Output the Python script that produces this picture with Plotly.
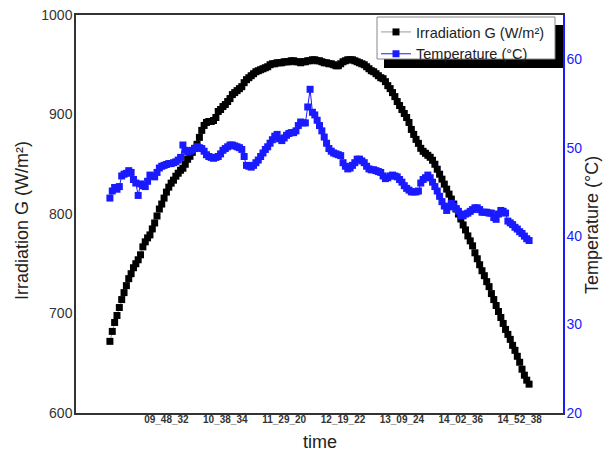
import plotly.graph_objects as go

irradiation = [
    672, 682, 691, 698, 706, 714, 721, 728, 735, 740,
    746, 750, 754, 759, 767, 772, 776, 779, 785, 791,
    798, 805, 810, 816, 822, 827, 831, 834, 838, 841,
    844, 846, 850, 855, 858, 862, 866, 870, 877, 884,
    889, 892, 893, 893, 894, 897, 903, 905, 908, 910,
    913, 916, 920, 922, 924, 926, 928, 932, 935, 937,
    939, 941, 943, 944, 945, 946, 947, 948, 950, 951,
    951, 952, 952, 952, 953, 953, 953, 954, 954, 953,
    953, 952, 953, 953, 954, 954, 955, 955, 954, 954,
    953, 952, 952, 951, 951, 950, 949, 949, 951, 953,
    954, 955, 955, 955, 954, 953, 952, 951, 950, 948,
    946, 944, 943, 941, 939, 937, 936, 933, 929, 926,
    922, 918, 913, 909, 905, 901, 897, 892, 885, 880,
    875, 871, 866, 863, 861, 859, 857, 854, 850, 845,
    840, 835, 830, 825, 820, 815, 810, 805, 800, 795,
    789, 784, 778, 773, 768, 761, 755, 749, 743, 738,
    732, 727, 720, 714, 708, 702, 696, 690, 684, 679,
    674, 668, 663, 657, 651, 644, 638, 633, 629,
]

temperature = [
    44.3, 45.1, 45.5, 45.3, 45.6, 46.8, 47.0, 47.1, 47.4, 47.2,
    46.4, 46.0, 44.6, 45.9, 45.7, 45.6, 46.2, 46.9, 46.8, 46.7,
    47.2, 47.7, 47.9, 48.0, 48.1, 48.2, 48.2, 48.3, 48.4, 48.6,
    48.9, 50.3, 49.7, 49.5, 49.6, 49.7, 49.9, 50.1, 50.0, 49.9,
    49.6, 49.2, 49.0, 48.9, 48.8, 48.9, 49.0, 49.3, 49.7, 49.9,
    50.1, 50.3, 50.3, 50.2, 50.1, 50.0, 49.8, 49.0, 48.0, 47.9,
    47.8, 48.0, 48.3, 48.6, 49.0, 49.4, 49.8, 50.1, 50.5, 50.9,
    51.3, 51.5, 51.0, 50.8, 51.1, 51.4, 51.6, 51.7, 51.7, 51.9,
    52.5, 52.9, 52.8, 52.8, 54.6, 56.6, 54.0, 53.7, 53.1, 52.5,
    51.9, 51.2, 50.5, 49.9, 49.6, 49.4, 49.3, 49.2, 49.1, 48.3,
    47.9, 47.6, 47.7, 48.0, 48.3, 48.7, 48.7, 48.5, 48.3, 47.9,
    47.6, 47.5, 47.5, 47.4, 47.3, 47.2, 46.8, 46.5, 46.6, 46.8,
    46.9, 46.8, 46.7, 46.4, 46.1, 45.7, 45.4, 45.2, 45.0, 45.0,
    45.0, 45.1, 46.0, 46.4, 46.6, 46.9, 46.6, 46.1, 45.6, 45.1,
    44.5, 43.9, 43.4, 42.9, 43.3, 43.7, 43.4, 43.1, 42.8, 42.3,
    42.3, 42.5, 42.6, 42.8, 43.0, 43.2, 43.2, 43.0, 42.7, 42.7,
    42.7, 42.6, 42.6, 42.1, 41.9, 42.5, 42.9, 42.8, 42.6, 41.7,
    41.5, 41.3, 41.0, 40.8, 40.5, 40.3, 40.0, 39.7, 39.5,
]

time_tick_index = [24, 49, 74, 99, 124, 149, 174]
time_tick_labels = ["09_48_32", "10_38_34", "11_29_20", "12_19_22",
                    "13_09_24", "14_02_36", "14_52_38"]

sample_index = list(range(len(irradiation)))

BLUE = "#1a1aff"

fig = go.Figure()
fig.add_trace(go.Scatter(
    x=sample_index, y=irradiation, name="Irradiation G (W/m²)",
    mode="lines+markers",
    line=dict(color="#999999", width=1),
    marker=dict(symbol="square", size=7, color="black"),
    yaxis="y",
))
fig.add_trace(go.Scatter(
    x=sample_index, y=temperature, name="Temperature (°C)",
    mode="lines+markers",
    line=dict(color=BLUE, width=1),
    marker=dict(symbol="square", size=7, color=BLUE),
    yaxis="y2",
))

W, H = 614, 455
L, R, T, B = 76, 51, 15, 42
pw, ph = W - L - R, H - T - B


def px(x):
    return (x - L) / pw


def py(y):
    return (H - B - y) / ph


shapes = [
    dict(type="rect", xref="paper", yref="paper",
         x0=px(384), x1=px(563), y0=py(68), y1=py(25),
         fillcolor="black", line=dict(width=0), layer="above"),
    dict(type="rect", xref="paper", yref="paper",
         x0=px(377), x1=px(555), y0=py(59), y1=py(17),
         fillcolor="white", line=dict(color="#888888", width=1), layer="above"),
]

title_font = dict(size=18, color="#222222", family="Liberation Sans, Arial, sans-serif")
annotations = [
    dict(text="Irradiation G (W/m²)", xref="paper", yref="paper",
         x=px(22), y=py(221), xanchor="center", yanchor="middle",
         textangle=-90, showarrow=False, font=title_font),
    dict(text="Temperature (°C)", xref="paper", yref="paper",
         x=px(592), y=py(225), xanchor="center", yanchor="middle",
         textangle=-90, showarrow=False, font=title_font),
    dict(text="time", xref="paper", yref="paper",
         x=px(320), y=py(442), xanchor="center", yanchor="middle",
         showarrow=False, font=title_font),
]

fig.update_layout(
    width=W, height=H,
    margin=dict(l=L, r=R, t=T, b=B, autoexpand=False),
    paper_bgcolor="white", plot_bgcolor="white",
    font=dict(family="Liberation Sans, Arial, sans-serif", color="#222222"),
    showlegend=True,
    legend=dict(
        x=px(376), y=py(16), xanchor="left", yanchor="top",
        bgcolor="rgba(0,0,0,0)", borderwidth=0,
        font=dict(size=14.5, color="#222222"),
        tracegroupgap=0,
    ),
    shapes=shapes,
    annotations=annotations,
    xaxis=dict(
        range=[-14.4, 192.4], automargin=False,
        tickmode="array", tickvals=time_tick_index, ticktext=time_tick_labels,
        tickfont=dict(size=10, color="#333333",
                      family="Liberation Sans, Arial, sans-serif", weight="bold"),
        ticks="", ticklabelstandoff=-4, showgrid=False, zeroline=False,
        showline=True, linecolor="#333333", linewidth=1.5, mirror=True,
    ),
    yaxis=dict(
        range=[600, 1000], tickvals=[600, 700, 800, 900, 1000], automargin=False,
        tickfont=dict(size=14, color="#333333"),
        ticks="", ticklabelstandoff=-1, showgrid=False, zeroline=False,
        showline=True, linecolor="#333333", linewidth=1.5,
    ),
    yaxis2=dict(
        range=[20, 65], tickvals=[20, 30, 40, 50, 60], automargin=False,
        overlaying="y", side="right",
        tickfont=dict(size=14, color=BLUE),
        ticks="", ticklabelstandoff=-1, showgrid=False, zeroline=False,
        showline=True, linecolor=BLUE, linewidth=1.5,
    ),
)

fig.write_html(
    "out.html",
    config={"displayModeBar": False},
    post_script="document.body.style.margin='0';document.body.style.overflow='hidden';",
)
